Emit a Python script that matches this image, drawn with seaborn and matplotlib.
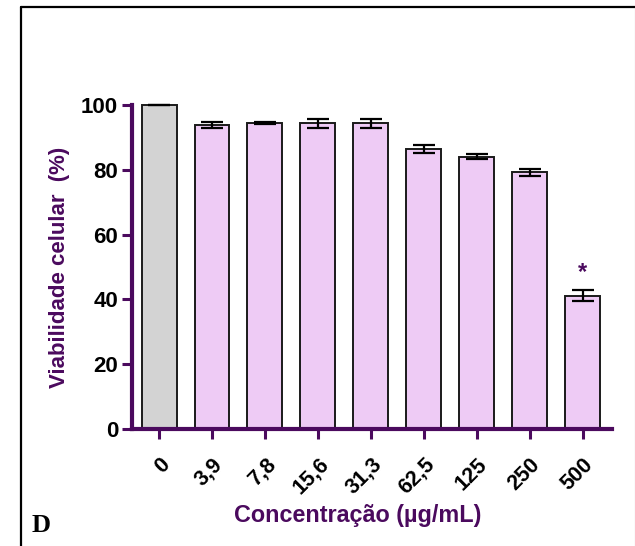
import matplotlib
matplotlib.use("Agg")
import matplotlib.pyplot as plt
from matplotlib.lines import Line2D
import seaborn as sns
import pandas as pd

categories = ["0", "3,9", "7,8", "15,6", "31,3", "62,5", "125", "250", "500"]
values = [100.0, 93.8, 94.5, 94.3, 94.3, 86.5, 84.0, 79.2, 41.1]
errors = [0.0, 1.0, 0.3, 1.4, 1.4, 1.2, 0.8, 1.2, 1.7]
bar_colors = ["#d3d3d3"] + ["#eecbf5"] * 8
y_ticks = [0, 20, 40, 60, 80, 100]
significant = ["500"]

purple = "#4b0a5e"

sns.set_theme(style="white")
plt.rcParams["font.family"] = ["Liberation Sans", "DejaVu Sans"]

df = pd.DataFrame({"conc": categories, "viab": values})

W, H = 635, 546
fig = plt.figure(figsize=(W / 100, H / 100), dpi=100)
ax = fig.add_axes([132 / W, 1 - 429 / H, 480 / W, 324 / H])

# outer panel frame (left and top black, right edge light gray)
fig.add_artist(Line2D([21 / W, 21 / W], [0, 1 - 7 / H], transform=fig.transFigure,
                      color="black", lw=1.6))
fig.add_artist(Line2D([21 / W, 1], [1 - 7 / H, 1 - 7 / H], transform=fig.transFigure,
                      color="black", lw=1.6))
fig.add_artist(Line2D([634.5 / W, 634.5 / W], [0, 1 - 7 / H], transform=fig.transFigure,
                      color="#aaaaaa", lw=0.8))

sns.barplot(data=df, x="conc", y="viab", hue="conc", palette=bar_colors,
            order=categories, hue_order=categories, legend=False,
            width=0.66, edgecolor="#1a1a1a", linewidth=1.4, errorbar=None,
            saturation=1, ax=ax, zorder=2)

xpos = list(range(len(categories)))
ax.errorbar(xpos, values, yerr=errors, fmt="none", ecolor="black",
            elinewidth=1.6, capsize=8, capthick=1.6, zorder=3, clip_on=False)

for c in significant:
    i = categories.index(c)
    ax.text(i, values[i] + errors[i] + 2.0, "*", ha="center", va="bottom",
            color=purple, fontsize=17, fontweight="bold")

ax.set_ylim(0, 100)
ax.set_xlim(-0.51, 8.55)
ax.set_yticks(y_ticks)
for b in ax.patches:
    b.set_clip_on(False)

for s in ["top", "right"]:
    ax.spines[s].set_visible(False)
for s in ["left", "bottom"]:
    ax.spines[s].set_color(purple)
    ax.spines[s].set_linewidth(3)

ax.tick_params(axis="both", direction="out", length=7, width=2.2,
               color=purple, labelcolor="black", labelsize=16,
               bottom=True, left=True, pad=3)
for lab in ax.get_yticklabels():
    lab.set_fontweight("bold")
ax.set_xticks(xpos)
ax.set_xticklabels(categories, rotation=45, ha="right", rotation_mode="anchor",
                   fontweight="bold", fontsize=15.5)
ax.tick_params(axis="x", pad=11)

ax.set_ylabel("Viabilidade celular  (%)", color=purple, fontsize=16,
              fontweight="bold", labelpad=8)
ax.set_xlabel("Concentração (µg/mL)", color=purple, fontsize=16.8,
              fontweight="bold", labelpad=5)
ax.xaxis.set_label_coords(0.471, -0.232)
ax.grid(False)

fig.text(32 / W, 1 - 532 / H, "D", fontsize=19, fontweight="bold", color="black",
         family=["Liberation Serif", "DejaVu Serif"], ha="left", va="baseline")

fig.savefig("out.png", dpi=100)
